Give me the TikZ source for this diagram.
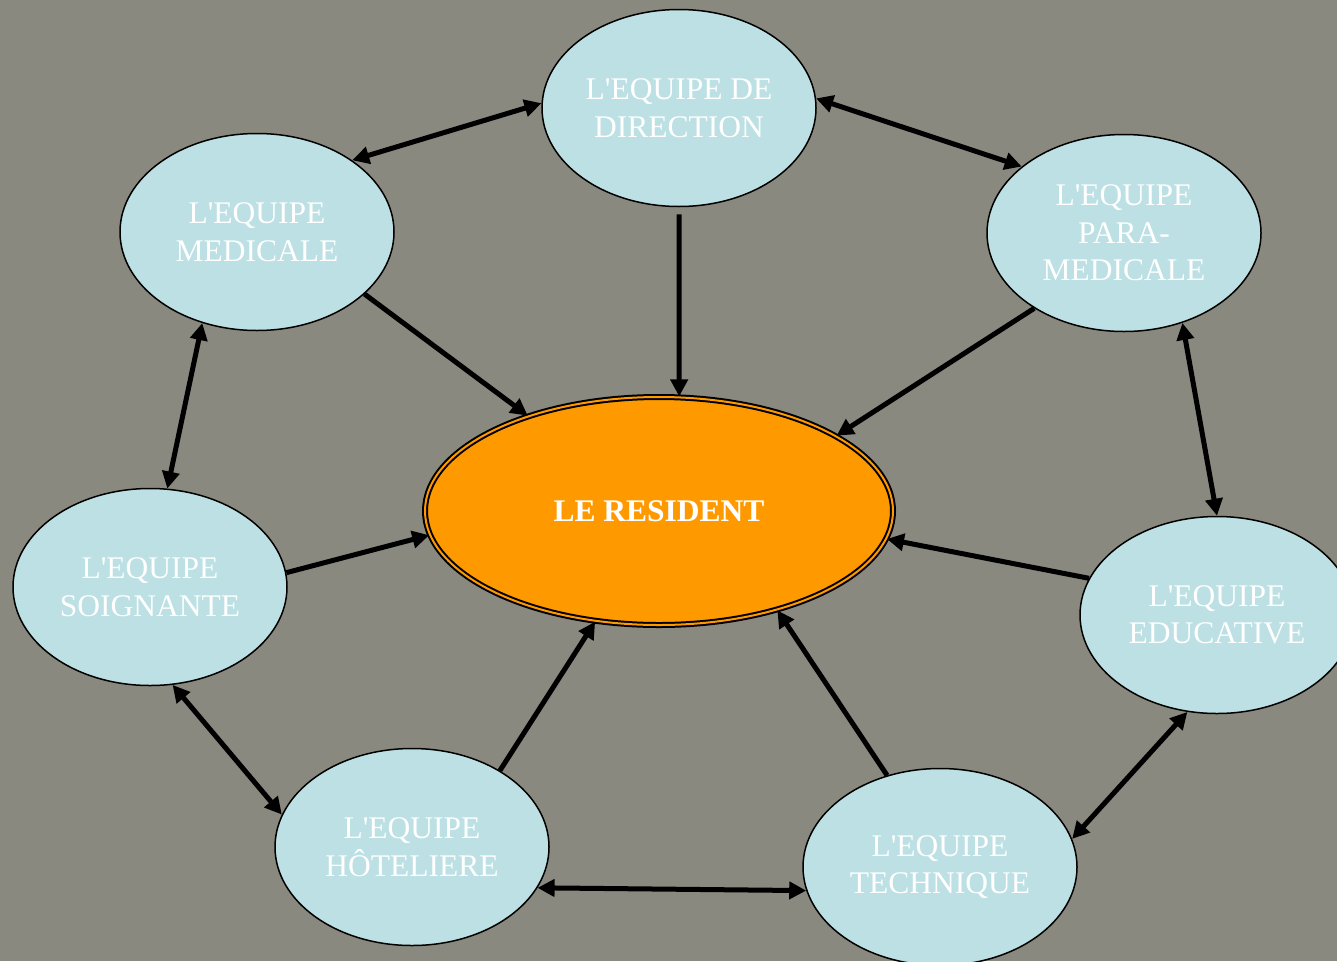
\documentclass[tikz,border=0pt]{standalone}
\usepackage{fontspec}
\setmainfont{Liberation Serif}
\usetikzlibrary{shapes.geometric,arrows.meta}
\definecolor{bgc}{HTML}{8A8980}
\definecolor{teamc}{HTML}{BCE0E3}
\definecolor{resc}{HTML}{FF9900}
\newcommand{\ap}{\textquotesingle}
\tikzset{
  team/.style={ellipse,draw=black,line width=1.5pt,fill=teamc,text=white,
    minimum width=274pt,minimum height=197pt,inner sep=0pt,align=center,
    font=\fontsize{31.5}{37.5}\selectfont},
  link/.style={line width=5pt,-{Triangle[length=17pt,width=17pt]}},
  bilink/.style={line width=5pt,{Triangle[length=17pt,width=17pt]}-{Triangle[length=17pt,width=17pt]}},
}
\begin{document}
\begin{tikzpicture}[x=1pt,y=-1pt]
\useasboundingbox (0,0) rectangle (1337,961);
\clip (0,0) rectangle (1337,961);
\fill[bgc] (0,0) rectangle (1337,961);

\node[ellipse,fill=resc,draw=black,double=resc,double distance=2pt,line width=2pt,
  minimum width=468pt,minimum height=228pt,inner sep=0pt,text=white,
  font=\fontsize{31.5}{37.5}\selectfont\bfseries] (res) at (659,511) {LE RESIDENT};

\node[team] (dir) at (679,108) {L\ap EQUIPE DE\\DIRECTION};
\node[team] (med) at (257,232) {L\ap EQUIPE\\MEDICALE};
\node[team] (para) at (1124,233) {L\ap EQUIPE\\PARA-\\MEDICALE};
\node[team] (soi) at (150,587) {L\ap EQUIPE\\SOIGNANTE};
\node[team] (edu) at (1217,615) {L\ap EQUIPE\\EDUCATIVE};
\node[team] (hot) at (412,847) {L\ap EQUIPE\\HÔTELIERE};
\node[team] (tec) at (940,867) {L\ap EQUIPE\\TECHNIQUE};

\draw[bilink] (med.37) -- (dir.178);
\draw[bilink] (dir.4) -- (para.147);
\draw[link,shorten <=7pt] (dir.-90) -- (res.80);
\draw[link] (med.-30) -- (res.144.7);
\draw[link] (para.220) -- (res.23.5);
\draw[bilink] (med.239) -- (soi.80.5);
\draw[bilink] (para.-57) -- (edu.90);
\draw[link] (soi.6.3) -- (res.186.4);
\draw[link] (edu.164.5) -- (res.-7.6);
\draw[bilink] (soi.-77.5) -- (hot.166);
\draw[link] (hot.41.8) -- (res.-120.4);
\draw[link] (tec.120.6) -- (res.-40);
\draw[bilink] (hot.-18.6) -- (tec.190);
\draw[bilink] (edu.253.7) -- (tec.12.6);
\end{tikzpicture}
\end{document}
